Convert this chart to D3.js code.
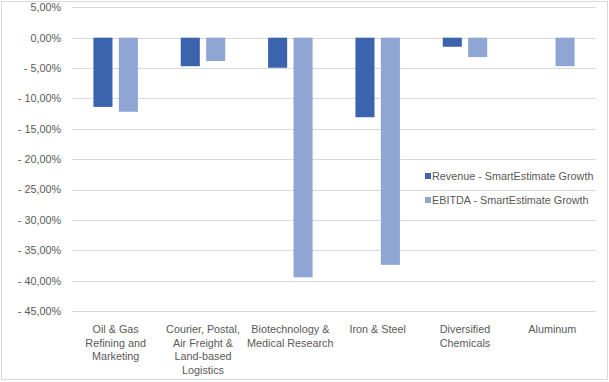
<!DOCTYPE html>
<html><head><meta charset="utf-8">
<script src="https://cdn.jsdelivr.net/npm/d3@7"></script>
<style>
html,body{margin:0;padding:0;background:#fff;}
svg{display:block;}
text{font-family:"Liberation Sans","DejaVu Sans",sans-serif;fill:#595959;}
</style></head><body>
<svg id="c" width="609" height="382"></svg>
<script>
const categories = [
  ["Oil & Gas","Refining and","Marketing"],
  ["Courier, Postal,","Air Freight &","Land-based","Logistics"],
  ["Biotechnology &","Medical Research"],
  ["Iron & Steel"],
  ["Diversified","Chemicals"],
  ["Aluminum"]
];
const seriesNames = ["Revenue - SmartEstimate Growth","EBITDA - SmartEstimate Growth"];
const revenue = [-11.4, -4.7, -4.95, -13.1, -1.5, 0];
const ebitda  = [-12.2, -3.85, -39.45, -37.4, -3.2, -4.7];
const yTicks = [5,0,-5,-10,-15,-20,-25,-30,-35,-40,-45];
const colors = ["#3C64AE","#8FA5D4"];
const FS = "10.8px";

const svg = d3.select("#c");
svg.append("rect").attr("x",1.5).attr("y",1.5).attr("width",606).attr("height",378)
  .attr("fill","#fff").attr("stroke","#D9D9D9").attr("stroke-width",1);

const idx = categories.map((d,i)=>i);
const x = d3.scaleBand().domain(idx).range([72,596]).padding(0);
const y = d3.scaleLinear().domain([-45,5]).range([311,7.3]);
const x1 = d3.scaleBand().domain([0,1]).range([0,44.5]).paddingInner(0.25);

const fmt = v => {
  const s = Math.abs(v).toFixed(2).replace(".",",") + "%";
  return v < 0 ? "- " + s : s;
};

// gridlines
svg.append("g").selectAll("line").data(yTicks).join("line")
  .attr("x1",72).attr("x2",596)
  .attr("y1",d=>Math.round(y(d))+0.5).attr("y2",d=>Math.round(y(d))+0.5)
  .attr("stroke","#D9D9D9").attr("stroke-width",1);

// y axis labels
const yAxis = d3.axisLeft(y).tickValues(yTicks).tickFormat(fmt).tickSize(0).tickPadding(0);
const ya = svg.append("g").attr("transform","translate(61,0)").call(yAxis);
ya.select(".domain").remove();
ya.selectAll("text").attr("font-size",FS).attr("fill","#595959")
  .style("font-family","'Liberation Sans',sans-serif");

// bars
const data = [revenue, ebitda];
const g = svg.append("g");
data.forEach((vals,s)=>{
  g.append("g").selectAll("rect").data(vals.map((v,i)=>({v,i}))).join("rect")
    .attr("x",d=>x(d.i)+(x.bandwidth()-44.5)/2+x1(s))
    .attr("width",x1.bandwidth())
    .attr("y",d=>y(Math.max(0,d.v)))
    .attr("height",d=>Math.abs(y(d.v)-y(0)))
    .attr("fill",colors[s]);
});

// category labels
const cl = svg.append("g");
categories.forEach((lines,i)=>{
  const t = cl.append("text").attr("text-anchor","middle").attr("font-size",FS)
    .attr("x",x(i)+x.bandwidth()/2).attr("y",333);
  lines.forEach((ln,j)=>{
    t.append("tspan").attr("x",x(i)+x.bandwidth()/2).attr("dy",j===0?0:13.7).text(ln);
  });
});

// legend
const lg = svg.append("g").attr("transform","translate(425,0)");
seriesNames.forEach((n,s)=>{
  const cy = 176 + s*24;
  lg.append("rect").attr("x",0).attr("y",cy-3).attr("width",6).attr("height",6).attr("fill",colors[s]);
  lg.append("text").attr("x",7).attr("y",cy+4).attr("font-size",FS).text(n);
});
</script>
</body></html>
